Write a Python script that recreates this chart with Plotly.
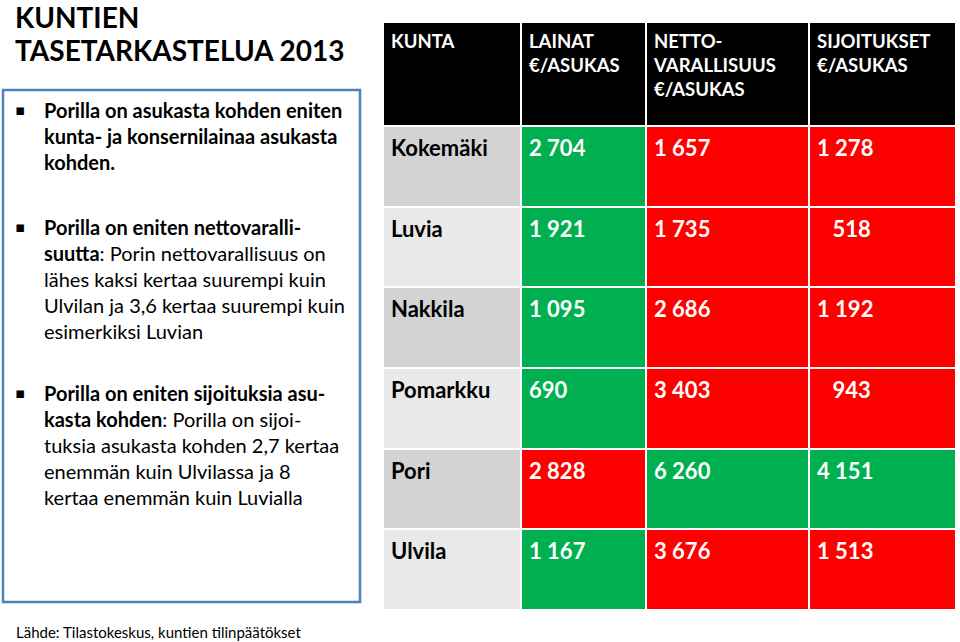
import plotly.graph_objects as go

# ---- data ----
kunnat = ["Kokemäki", "Luvia", "Nakkila", "Pomarkku", "Pori", "Ulvila"]
lainat = [2704, 1921, 1095, 690, 2828, 1167]
nettovarallisuus = [1657, 1735, 2686, 3403, 6260, 3676]
sijoitukset = [1278, 518, 1192, 943, 4151, 1513]
otsikot = ["KUNTA", "LAINAT<br>€/ASUKAS", "NETTO-<br>VARALLISUUS<br>€/ASUKAS", "SIJOITUKSET<br>€/ASUKAS"]

W, H = 960, 642
FONT = "Lato, Carlito, Calibri, sans-serif"
GREEN = "#00B050"
RED = "#FF0000"


def fmt(v, pad=False):
    s = f"{v:,}".replace(",", " ")
    if pad and v < 1000:
        s = "\u2007\u2009" + s
    return "<b>" + s + "</b>"


def colours(vals, max_good):
    m = max(vals)
    return [(GREEN if max_good else RED) if v == m else (RED if max_good else GREEN) for v in vals]


label_fill = ["#D3D3D3" if i % 2 == 0 else "#E9E9E9" for i in range(len(kunnat))]

fig = go.Figure()
fig.add_trace(go.Table(
    domain=dict(x=[383 / W, 956 / W], y=[1 - 614 / H, 1 - 22 / H]),
    columnwidth=[138, 125, 163, 147],
    header=dict(
        values=["<b>" + t + "</b>" for t in otsikot],
        fill_color="#000000",
        line=dict(color="white", width=2),
        font=dict(family=FONT, size=18.5, color="white"),
        align="left",
        height=104,
    ),
    cells=dict(
        values=[["<b>" + k + "</b>" for k in kunnat],
                [fmt(v) for v in lainat],
                [fmt(v) for v in nettovarallisuus],
                [fmt(v, pad=True) for v in sijoitukset]],
        fill_color=[label_fill,
                    colours(lainat, max_good=False),
                    colours(nettovarallisuus, max_good=True),
                    colours(sijoitukset, max_good=True)],
        line=dict(color="white", width=2),
        font=dict(family=FONT, size=22, color=["black", "white", "white", "white"]),
        align="left",
        height=80.67,
    ),
))

ann = []


def px(x):
    return x / W


def py(y):
    return 1 - y / H


# title (two lines)
ann.append(dict(x=px(13), y=py(17), xanchor="left", yanchor="middle",
                text="<b>KUNTIEN</b>", showarrow=False,
                font=dict(family=FONT, size=28, color="black")))
ann.append(dict(x=px(13), y=py(50), xanchor="left", yanchor="middle",
                text="<b>TASETARKASTELUA 2013</b>", showarrow=False,
                font=dict(family=FONT, size=28, color="black")))

bullets = [
    (110, ["<b>Porilla on asukasta kohden eniten</b>",
           "<b>kunta- ja konsernilainaa asukasta</b>",
           "<b>kohden.</b>"]),
    (227, ["<b>Porilla on eniten nettovaralli-</b>",
           "<b>suutta</b>: Porin nettovarallisuus on",
           "lähes kaksi kertaa suurempi kuin",
           "Ulvilan ja 3,6 kertaa suurempi kuin",
           "esimerkiksi Luvian"]),
    (393, ["<b>Porilla on eniten sijoituksia asu-</b>",
           "<b>kasta kohden</b>: Porilla on sijoi-",
           "tuksia asukasta kohden 2,7 kertaa",
           "enemmän kuin Ulvilassa ja 8",
           "kertaa enemmän kuin Luvialla"]),
]
LS = 26
for first, lines in bullets:
    centre = first + LS * (len(lines) - 1) / 2
    ann.append(dict(x=px(42), y=py(centre), xanchor="left", yanchor="middle", align="left",
                    text="<br>".join(lines), showarrow=False,
                    font=dict(family=FONT, size=20, color="black")))
    ann.append(dict(x=px(20), y=py(first), xanchor="center", yanchor="middle",
                    text="▪", showarrow=False,
                    font=dict(family="DejaVu Sans", size=15, color="black")))

ann.append(dict(x=px(14), y=py(632), xanchor="left", yanchor="middle", showarrow=False,
                text="Lähde: Tilastokeskus, kuntien tilinpäätökset",
                font=dict(family=FONT, size=15, color="black")))

fig.update_layout(
    width=W, height=H,
    margin=dict(l=0, r=0, t=0, b=0),
    paper_bgcolor="white", plot_bgcolor="white",
    annotations=ann,
    shapes=[dict(type="rect", xref="paper", yref="paper",
                 x0=px(3), x1=px(360), y0=py(602), y1=py(90),
                 line=dict(color="#4F81BD", width=2.5), fillcolor="rgba(0,0,0,0)")],
)

fig.write_html("out.html", config={"displayModeBar": False},
               post_script="document.body.style.margin='0';document.body.style.overflow='hidden';")
